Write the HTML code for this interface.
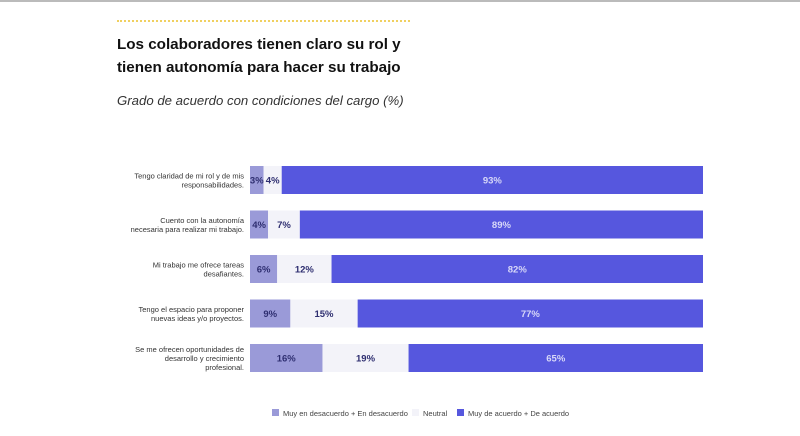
<!DOCTYPE html>
<html><head><meta charset="utf-8"><style>
body{margin:0;width:800px;height:436px;background:#fff;font-family:"Liberation Sans",sans-serif;overflow:hidden;position:relative}
.topline{position:absolute;left:0;top:0;width:800px;height:2px;background:#bbb}
.dots{position:absolute;left:117px;top:20px;width:293px;border-top:2px dotted #f0d060}
h1{position:absolute;left:117px;top:33px;margin:0;font-size:15.2px;line-height:23px;font-weight:bold;color:#111;width:400px}
.sub{position:absolute;left:117px;top:93px;font-size:13.2px;font-style:italic;color:#333}
</style></head><body>
<div class="topline"></div>
<div class="dots"></div>
<h1>Los colaboradores tienen claro su rol y<br>tienen autonomía para hacer su trabajo</h1>
<div class="sub">Grado de acuerdo con condiciones del cargo (%)</div>
<svg id="chart" width="800" height="436" style="position:absolute;left:0;top:0"></svg>
<script>
const categories=[["Tengo claridad de mi rol y de mis","responsabilidades."],["Cuento con la autonomía","necesaria para realizar mi trabajo."],["Mi trabajo me ofrece tareas","desafiantes."],["Tengo el espacio para proponer","nuevas ideas y/o proyectos."],["Se me ofrecen oportunidades de","desarrollo y crecimiento","profesional."]];
const disagree=[3,4,6,9,16];
const neutral=[4,7,12,15,19];
const agree=[93,89,82,77,65];
const seriesNames=["Muy en desacuerdo + En desacuerdo","Neutral","Muy de acuerdo + De acuerdo"];
const colors=["#9a9ad8","#f3f3f9","#5657de"];
const textColors=["#2e2e70","#2e2e70","#d8d8f8"];
const svg=document.getElementById('chart');const NS="http://www.w3.org/2000/svg";
const x0=250,x1=703,y0=180,dy=44.5,bh=28;
const ys=i=>y0+i*dy;
function el(t,a){const e=document.createElementNS(NS,t);for(const k in a)e.setAttribute(k,a[k]);svg.appendChild(e);return e;}
const series=[disagree,neutral,agree];
categories.forEach((c,i)=>{
  const total=series.reduce((a,s)=>a+s[i],0);
  const xs=v=>x0+(x1-x0)*v/total;
  let cum=0;
  series.forEach((s,j)=>{
    const r=el('rect',{x:xs(cum),y:ys(i)-bh/2,width:xs(cum+s[i])-xs(cum),height:bh,fill:colors[j]});
    
    
    const t=el('text',{x:(xs(cum)+xs(cum+s[i]))/2,y:ys(i)+3.5,'text-anchor':'middle','font-size':9.5,'font-weight':'bold',fill:textColors[j]});
    t.textContent=s[i]+'%';
    
    
    cum+=s[i];
  });
  const n=c.length;
  c.forEach((line,k)=>{
    const t=el('text',{x:244,y:ys(i)+3-(n-1)*4.5+k*9,'text-anchor':'end','font-size':7.5,fill:'#333'});
    t.textContent=line;
    
    
  });
});
const lx=[272,412,457];
seriesNames.forEach((nm,j)=>{
  const r=el('rect',{x:lx[j],y:409,width:7,height:7,fill:colors[j]});
  
  
  const t=el('text',{x:lx[j]+11,y:416,'font-size':7.5,fill:'#444'});
  t.textContent=nm;
  
  
});
</script>
</body></html>
